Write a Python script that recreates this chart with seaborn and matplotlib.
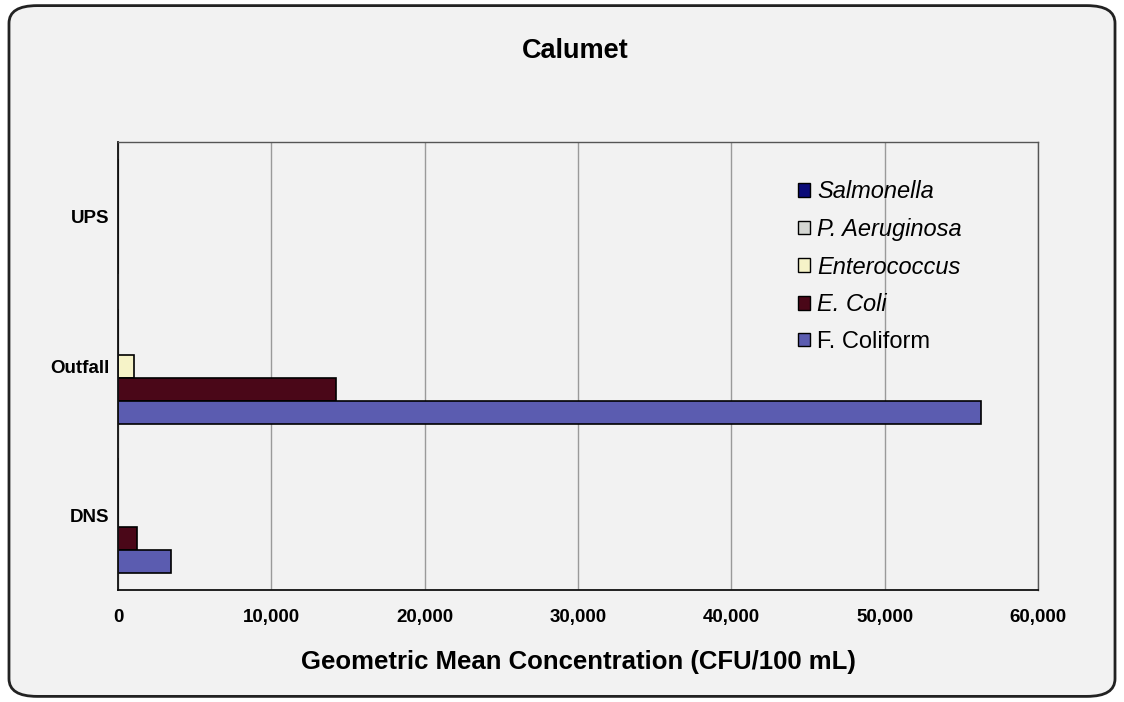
"""
Calumet: geometric mean concentration of indicator bacteria by station,
horizontal grouped bars with seaborn.
"""

import numpy as np
import pandas as pd
import matplotlib.pyplot as plt
import seaborn as sns
from matplotlib.patches import FancyBboxPatch, Patch


STATIONS = ["UPS", "Outfall", "DNS"]
SERIES = ["Salmonella", "P. Aeruginosa", "Enterococcus", "E. Coli", "F. Coliform"]

SALMONELLA = [0, 0, 0]
P_AERUGINOSA = [0, 0, 0]
ENTEROCOCCUS = [0, 1050, 0]
E_COLI = [0, 14200, 1250]
F_COLIFORM = [0, 56250, 3450]

X_TICKS = [0, 10000, 20000, 30000, 40000, 50000, 60000]

COLORS = {
    "Salmonella": "#0b0b78",
    "P. Aeruginosa": "#d4d6d2",
    "Enterococcus": "#f6f3c8",
    "E. Coli": "#4a0718",
    "F. Coliform": "#5b5cb0",
}
BG = "#f2f2f2"


def build_frame():
    values = [SALMONELLA, P_AERUGINOSA, ENTEROCOCCUS, E_COLI, F_COLIFORM]
    rows = []
    for name, vals in zip(SERIES, values):
        for st, v in zip(STATIONS, vals):
            rows.append({"station": st, "series": name, "value": v})
    return pd.DataFrame(rows)


def main():
    df = build_frame()
    sns.set_theme(style="white")
    plt.rcParams["font.family"] = ["Liberation Sans", "DejaVu Sans"]
    for key in ("text.color", "axes.labelcolor", "xtick.labelcolor",
                "ytick.labelcolor"):
        plt.rcParams[key] = "black"

    fig = plt.figure(figsize=(11.24, 7.02), dpi=100)
    fig.patch.set_facecolor("white")

    # Rounded chart border like the spreadsheet chart area.
    frame = FancyBboxPatch((0.008, 0.008), 0.984, 0.984,
                           boxstyle="round,pad=0,rounding_size=0.025",
                           transform=fig.transFigure, facecolor=BG,
                           edgecolor="#222222", linewidth=2.0, zorder=-10)
    fig.patches.append(frame)

    ax = fig.add_axes([0.105, 0.1595, 0.8185, 0.6382])
    ax.set_facecolor(BG)

    sns.barplot(data=df, y="station", x="value", hue="series",
                order=STATIONS, hue_order=SERIES, palette=COLORS,
                orient="h", width=0.77, edgecolor="black", linewidth=1.2,
                saturation=1, legend=False, ax=ax)

    ax.set_xlim(0, 60000)
    ax.set_ylim(2.5, -0.5)
    ax.set_xticks(X_TICKS)
    ax.set_xticklabels([f"{t:,}" for t in X_TICKS], fontsize=13.5,
                       fontweight="bold")
    ax.set_yticks(range(len(STATIONS)))
    ax.set_yticklabels(STATIONS, fontsize=13.5, fontweight="bold")
    ax.set_yticks([-0.5, 0.5, 1.5, 2.5], minor=True)
    ax.tick_params(axis="y", which="major", length=0, pad=6)
    ax.tick_params(axis="y", which="minor", length=5, width=1, color="#333333",
                   direction="out")
    ax.tick_params(axis="x", which="major", length=5, width=1, color="#333333",
                   direction="out", pad=9)

    ax.grid(axis="x", color="#9a9a9a", linewidth=1.0)
    ax.grid(axis="y", visible=False)
    ax.set_axisbelow(True)

    for side in ("left", "bottom"):
        ax.spines[side].set_color("#111111")
        ax.spines[side].set_linewidth(1.3)
    for side in ("top", "right"):
        ax.spines[side].set_color("#555555")
        ax.spines[side].set_linewidth(1.0)

    ax.set_ylabel("")
    ax.set_xlabel("Geometric Mean Concentration (CFU/100 mL)", fontsize=18.5,
                  fontweight="bold", labelpad=17)
    fig.text(0.512, 0.928, "Calumet", ha="center", va="center",
             fontsize=19.5, fontweight="bold")

    handles = [Patch(facecolor=COLORS[s], edgecolor="black", linewidth=1.0)
               for s in SERIES]
    leg = ax.legend(handles=handles, labels=SERIES, loc="upper left",
                    bbox_to_anchor=(0.716, 0.962), frameon=False,
                    fontsize=17, handlelength=0.5, handleheight=0.5,
                    handletextpad=0.3, labelspacing=0.62)
    for txt in leg.get_texts()[:4]:
        txt.set_fontstyle("italic")

    fig.savefig("out.png", dpi=100, facecolor="white")


if __name__ == "__main__":
    main()
